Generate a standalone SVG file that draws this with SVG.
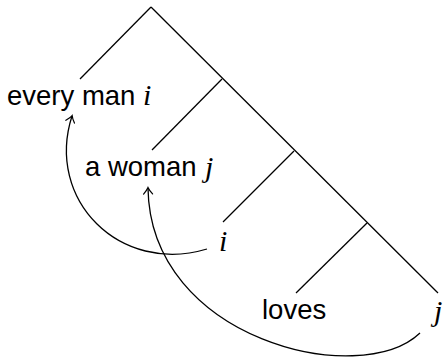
<svg xmlns="http://www.w3.org/2000/svg" width="443" height="360" viewBox="0 0 443 360">
<style>
.t{font-family:"Liberation Sans",Arial,sans-serif;font-size:27.5px;fill:#000}
.m{font-family:"Liberation Serif","Times New Roman",serif;font-style:italic;font-size:30px;fill:#000}
.e{stroke:#000;stroke-width:1.3;fill:none}
</style>
<defs>
<marker id="ah" markerWidth="12" markerHeight="12" refX="0" refY="0" viewBox="-7 -6 9 12" orient="auto" markerUnits="userSpaceOnUse">
<path d="M -6 -4.5 Q -2 -1 0.5 0 Q -2 1 -6 4.5" fill="none" stroke="#000" stroke-width="1.2" stroke-linecap="round"/>
</marker>
</defs>
<g id="edges" class="e">
<line x1="151" y1="7" x2="80" y2="79"/>
<line x1="151" y1="7" x2="438" y2="293"/>
<line x1="222" y1="79" x2="152" y2="150"/>
<line x1="294" y1="151" x2="223" y2="222"/>
<line x1="367" y1="223" x2="296" y2="293"/>
</g>
<g id="node-every-man"><text class="t" x="7" y="105">every man</text><text class="m" x="143" y="105">i</text></g>
<g id="node-a-woman"><text class="t" x="85" y="176">a woman</text><text class="m" x="205" y="177">j</text></g>
<g id="node-i"><text class="m" x="219" y="251">i</text></g>
<g id="node-loves"><text class="t" x="262" y="319">loves</text></g>
<g id="node-j"><text class="m" x="434" y="321">j</text></g>
<g id="arrows" class="e">
<path d="M 207 249 C 120 275, 45 200, 72 116" marker-end="url(#ah)"/>
<path d="M 420 333 C 360 390, 150 340, 148 188" marker-end="url(#ah)"/>
</g>
</svg>
